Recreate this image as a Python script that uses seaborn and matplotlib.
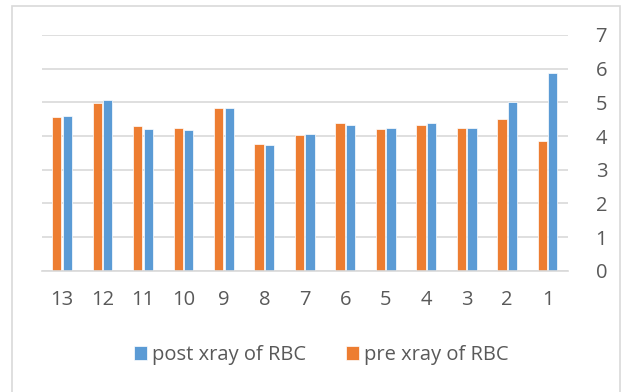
import matplotlib.pyplot as plt
import pandas as pd
import seaborn as sns
from matplotlib.patches import Rectangle

categories = ['13', '12', '11', '10', '9', '8', '7', '6', '5', '4', '3', '2', '1']
pre_xray = [4.57, 4.99, 4.31, 4.23, 4.83, 3.76, 4.04, 4.38, 4.21, 4.33, 4.24, 4.50, 3.85]
post_xray = [4.58, 5.08, 4.21, 4.17, 4.83, 3.73, 4.07, 4.33, 4.24, 4.38, 4.24, 5.01, 5.87]

df = pd.DataFrame({'sample': categories * 2,
                   'value': pre_xray + post_xray,
                   'series': ['pre xray of RBC'] * 13 + ['post xray of RBC'] * 13})

sns.set_style('white')
plt.rcParams['font.family'] = ['Open Sans', 'DejaVu Sans']

fig = plt.figure(figsize=(6.24, 3.92), dpi=100)
ax = fig.add_axes([0.067, 0.309, 0.843, 0.602])

palette = {'pre xray of RBC': '#ED7D31', 'post xray of RBC': '#5B9BD5'}
p = sns.barplot(data=df, x='sample', y='value', hue='series', order=categories,
                hue_order=['pre xray of RBC', 'post xray of RBC'],
                palette=palette, width=0.52, gap=0.12, saturation=1,
                edgecolor='white', linewidth=0.5, ax=ax)

ax.set_ylim(0, 7)
ax.set_xlim(-0.5, 12.5)
ax.set_yticks(range(8))
ax.yaxis.tick_right()
ax.grid(axis='y', color='#D9D9D9', linewidth=1.2)
ax.set_axisbelow(True)
for s in ['top', 'left', 'right']:
    ax.spines[s].set_visible(False)
ax.spines['bottom'].set_color('#D9D9D9')
ax.spines['bottom'].set_linewidth(1.2)
ax.tick_params(axis='both', length=0, labelsize=14.5, colors='#595959')
ax.tick_params(axis='x', pad=14)
ax.tick_params(axis='y', pad=20)
ax.set_xlabel('')
ax.set_ylabel('')

handles, labels = ax.get_legend_handles_labels()
ax.legend(handles[::-1], labels[::-1], loc='center', bbox_to_anchor=(0.515, 0.094),
          bbox_transform=fig.transFigure, ncol=2, frameon=False, fontsize=14.5,
          labelcolor='#595959', handlelength=0.65, handleheight=0.65,
          handletextpad=0.25, columnspacing=2.0)

fig.patches.append(Rectangle((0.019, -0.1), 0.975, 1.085, transform=fig.transFigure,
                             fill=False, edgecolor='#D9D9D9', linewidth=1.2))

fig.savefig('out.png', dpi=100)
